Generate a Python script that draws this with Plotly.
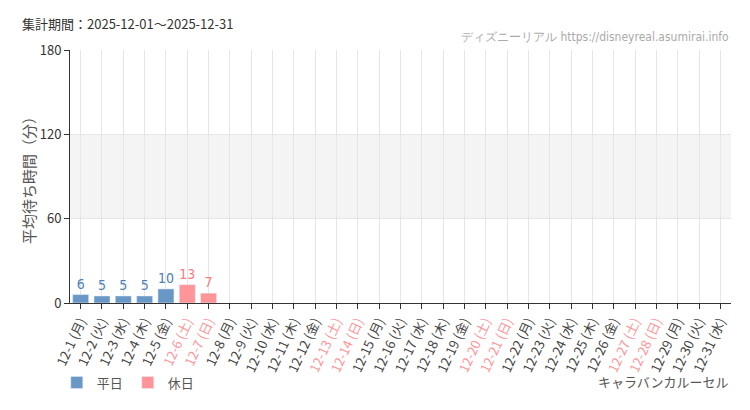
import plotly.graph_objects as go

# December 2025 daily average waits (minutes), None = no data
days = [f"12-{d}" for d in range(1, 32)]
weekdays = (["月", "火", "水", "木", "金", "土", "日"] * 5)[:31]
wait_times = [6, 5, 5, 5, 10, 13, 7] + [None] * 24
holidays = [w in ("土", "日") for w in weekdays]

blue = "#6a98c6"
blue_text = "#4f7fb7"
pink = "#ff9499"
pink_text = "#f77b80"

weekday_vals = [v if not h else None for v, h in zip(wait_times, holidays)]
holiday_vals = [v if h else None for v, h in zip(wait_times, holidays)]

ticktext = []
for d, w, h in zip(days, weekdays, holidays):
    label = f"{d} ({w})"
    if h:
        label = f'<span style="color:{pink}">{label}</span>'
    ticktext.append(label)

num_font = "DejaVu Sans Condensed, Liberation Sans Narrow, sans-serif"

fig = go.Figure()
fig.add_trace(go.Bar(
    x=days, y=weekday_vals, name="平日", marker_color=blue,
    text=[v if v is not None else "" for v in weekday_vals],
    textposition="outside", cliponaxis=False,
    textfont=dict(color=blue_text, size=14, family=num_font),
))
fig.add_trace(go.Bar(
    x=days, y=holiday_vals, name="休日", marker_color=pink,
    text=[v if v is not None else "" for v in holiday_vals],
    textposition="outside", cliponaxis=False,
    textfont=dict(color=pink_text, size=14, family=num_font),
))

# shaded band 60-120
fig.add_shape(type="rect", xref="paper", yref="y", x0=0, x1=1, y0=60, y1=120,
              fillcolor="#f4f4f4", line_width=0, layer="below")

# page body adds 8px offset, so the figure is a bit smaller than the window
fig.update_layout(
    width=742, height=402,
    barmode="overlay", bargap=0.25,
    plot_bgcolor="white", paper_bgcolor="white",
    margin=dict(l=62, r=19, t=42, b=105),
    font=dict(family="Noto Sans CJK JP, sans-serif", color="#444", size=13),
    showlegend=True,
    legend=dict(orientation="h", x=-0.02, y=-0.255, xanchor="left", yanchor="top",
                font=dict(size=13, color="#555"), itemwidth=30),
    annotations=[
        dict(text="集計期間：2025-12-01～2025-12-31", xref="paper", yref="paper",
             x=-0.075, y=1.06, xanchor="left", yanchor="bottom", showarrow=False,
             font=dict(size=13, color="#333")),
        dict(text="ディズニーリアル https://disneyreal.asumirai.info", xref="paper", yref="paper",
             x=1.0, y=1.015, xanchor="right", yanchor="bottom", showarrow=False,
             font=dict(size=12, color="#aaa", family=num_font)),
        dict(text="キャラバンカルーセル", xref="paper", yref="paper",
             x=1.0, y=-0.265, xanchor="right", yanchor="top", showarrow=False,
             font=dict(size=13, color="#555")),
    ],
)
fig.update_xaxes(
    type="category", categoryorder="array", categoryarray=days,
    range=[-0.5, len(days) - 0.5],
    tickmode="array", tickvals=days, ticktext=ticktext, tickangle=-65,
    showgrid=True, gridcolor="#e6e6e6", showline=True, linecolor="#333",
    ticks="outside", ticklen=5, tickcolor="#333",
    tickfont=dict(size=13, color="#444"),
)
fig.update_yaxes(
    range=[0, 180], tickvals=[0, 60, 120, 180],
    showgrid=True, gridcolor="#e6e6e6", showline=True, linecolor="#333",
    ticks="outside", ticklen=5, tickcolor="#333", zeroline=False,
    title=dict(text="平均待ち時間（分）", font=dict(size=15, color="#555"), standoff=0),
    tickfont=dict(size=13, color="#333"),
)

fig.write_html("out.html")
